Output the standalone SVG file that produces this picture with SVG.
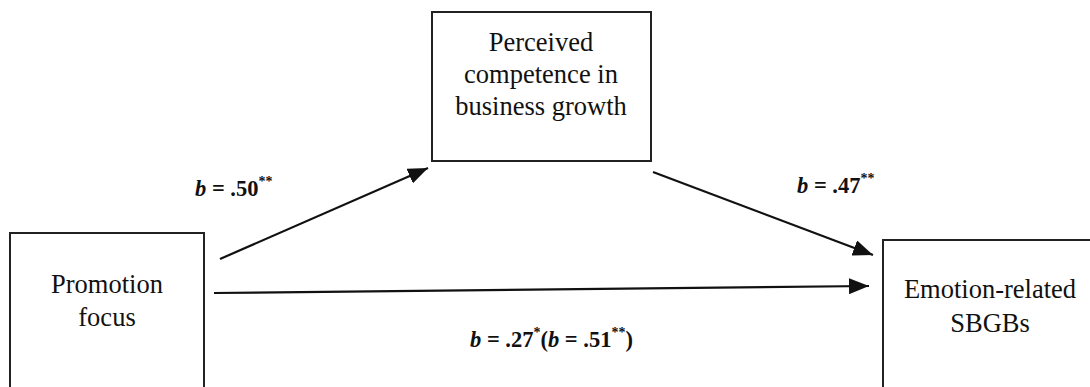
<svg xmlns="http://www.w3.org/2000/svg" width="1090" height="387" viewBox="0 0 1090 387">
<style>
.box{fill:#fff;stroke:#222;stroke-width:2}
.nt{font-family:"Liberation Serif","Times New Roman",serif;font-size:26.5px;fill:#111;text-anchor:middle}
.lb{font-family:"Liberation Serif","Times New Roman",serif;font-size:22.5px;font-weight:bold;fill:#111}
.it{font-style:italic}
.sup{font-size:14px}
.edge{stroke:#111;stroke-width:2.2;fill:none}
</style>
<defs>
<marker id="ah" markerUnits="userSpaceOnUse" markerWidth="22" markerHeight="16" refX="20" refY="8" orient="auto">
<path d="M0,0 L20,8 L0,16 Z" fill="#111"/>
</marker>
</defs>
<rect width="1090" height="387" fill="#fff"/>
<g id="promotion">
<rect class="box" x="10" y="233" width="194" height="170"/>
<text class="nt" x="107" y="293">Promotion</text>
<text class="nt" x="107" y="326">focus</text>
</g>
<g id="competence">
<rect class="box" x="432" y="12" width="219" height="149"/>
<text class="nt" x="541" y="51">Perceived</text>
<text class="nt" x="541" y="83">competence in</text>
<text class="nt" x="541" y="115">business growth</text>
</g>
<g id="emotion">
<rect class="box" x="883" y="240" width="220" height="170"/>
<text class="nt" x="990" y="298">Emotion-related</text>
<text class="nt" x="990" y="332">SBGBs</text>
</g>
<g id="connectors">
<line class="edge" x1="220" y1="259" x2="428" y2="168" marker-end="url(#ah)"/>
<line class="edge" x1="653" y1="172" x2="873" y2="255" marker-end="url(#ah)"/>
<line class="edge" x1="214" y1="293" x2="869" y2="286" marker-end="url(#ah)"/>
</g>
<g id="labels">
<text class="lb" x="195" y="196"><tspan class="it">b</tspan> = .50<tspan class="sup" dy="-10">**</tspan></text>
<text class="lb" x="797" y="193"><tspan class="it">b</tspan> = .47<tspan class="sup" dy="-10">**</tspan></text>
<text class="lb" x="470" y="347"><tspan class="it">b</tspan> = .27<tspan class="sup" dy="-10">*</tspan><tspan dy="10">(</tspan><tspan class="it">b</tspan> = .51<tspan class="sup" dy="-10">**</tspan><tspan dy="10">)</tspan></text>
</g>
</svg>
